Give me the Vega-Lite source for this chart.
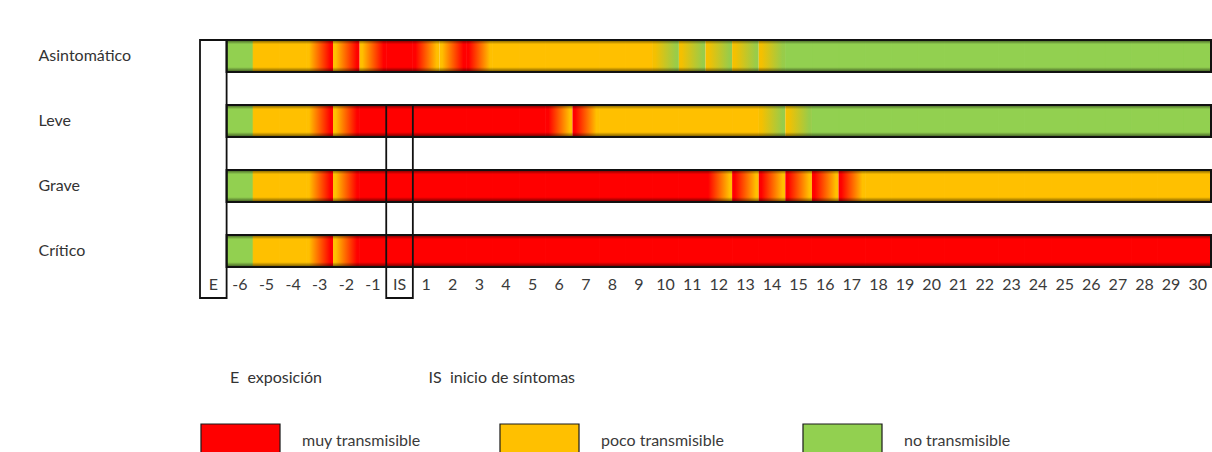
{
  "$schema": "https://vega.github.io/schema/vega-lite/v6.json",
  "width": 1011,
  "height": 258,
  "autosize": {"type": "none"},
  "padding": {"left": 200, "top": 40, "right": 1, "bottom": 154},
  "background": "white",
  "title": {
    "text": "E\u00a0\u00a0exposición\u00a0\u00a0\u00a0\u00a0\u00a0\u00a0\u00a0\u00a0\u00a0\u00a0\u00a0\u00a0\u00a0\u00a0\u00a0\u00a0\u00a0\u00a0\u00a0\u00a0\u00a0\u00a0\u00a0\u00a0\u00a0\u00a0IS\u00a0\u00a0inicio de síntomas",
    "orient": "top", "anchor": "start", "frame": "group", "dx": 30, "offset": -347,
    "font": "Lato", "fontSize": 16, "fontWeight": "normal", "color": "#333333"
  },
  "config": {
    "view": {"stroke": null},
    "axis": {"grid": false, "domain": false, "ticks": false, "labelFont": "Lato", "labelColor": "#3a3a3a", "labelFontSize": 16},
    "legend": {"labelFont": "Lato", "labelColor": "#3a3a3a", "labelFontSize": 16}
  },
  "datasets": {
    "celdas": [
      {"caso": "Asintomático", "dia": "-6", "de": "no", "a": "no"},
      {"caso": "Asintomático", "dia": "-5", "de": "poco", "a": "poco"},
      {"caso": "Asintomático", "dia": "-4", "de": "poco", "a": "poco"},
      {"caso": "Asintomático", "dia": "-3", "de": "poco", "a": "muy"},
      {"caso": "Asintomático", "dia": "-2", "de": "poco", "a": "muy"},
      {"caso": "Asintomático", "dia": "-1", "de": "poco", "a": "muy"},
      {"caso": "Asintomático", "dia": "IS", "de": "muy", "a": "muy"},
      {"caso": "Asintomático", "dia": "1", "de": "muy", "a": "poco"},
      {"caso": "Asintomático", "dia": "2", "de": "poco", "a": "muy"},
      {"caso": "Asintomático", "dia": "3", "de": "muy", "a": "poco"},
      {"caso": "Asintomático", "dia": "4", "de": "poco", "a": "poco"},
      {"caso": "Asintomático", "dia": "5", "de": "poco", "a": "poco"},
      {"caso": "Asintomático", "dia": "6", "de": "poco", "a": "poco"},
      {"caso": "Asintomático", "dia": "7", "de": "poco", "a": "poco"},
      {"caso": "Asintomático", "dia": "8", "de": "poco", "a": "poco"},
      {"caso": "Asintomático", "dia": "9", "de": "poco", "a": "poco"},
      {"caso": "Asintomático", "dia": "10", "de": "poco", "a": "no"},
      {"caso": "Asintomático", "dia": "11", "de": "poco", "a": "no"},
      {"caso": "Asintomático", "dia": "12", "de": "poco", "a": "no"},
      {"caso": "Asintomático", "dia": "13", "de": "poco", "a": "no"},
      {"caso": "Asintomático", "dia": "14", "de": "poco", "a": "no"},
      {"caso": "Asintomático", "dia": "15", "de": "no", "a": "no"},
      {"caso": "Asintomático", "dia": "16", "de": "no", "a": "no"},
      {"caso": "Asintomático", "dia": "17", "de": "no", "a": "no"},
      {"caso": "Asintomático", "dia": "18", "de": "no", "a": "no"},
      {"caso": "Asintomático", "dia": "19", "de": "no", "a": "no"},
      {"caso": "Asintomático", "dia": "20", "de": "no", "a": "no"},
      {"caso": "Asintomático", "dia": "21", "de": "no", "a": "no"},
      {"caso": "Asintomático", "dia": "22", "de": "no", "a": "no"},
      {"caso": "Asintomático", "dia": "23", "de": "no", "a": "no"},
      {"caso": "Asintomático", "dia": "24", "de": "no", "a": "no"},
      {"caso": "Asintomático", "dia": "25", "de": "no", "a": "no"},
      {"caso": "Asintomático", "dia": "26", "de": "no", "a": "no"},
      {"caso": "Asintomático", "dia": "27", "de": "no", "a": "no"},
      {"caso": "Asintomático", "dia": "28", "de": "no", "a": "no"},
      {"caso": "Asintomático", "dia": "29", "de": "no", "a": "no"},
      {"caso": "Asintomático", "dia": "30", "de": "no", "a": "no"},

      {"caso": "Leve", "dia": "-6", "de": "no", "a": "no"},
      {"caso": "Leve", "dia": "-5", "de": "poco", "a": "poco"},
      {"caso": "Leve", "dia": "-4", "de": "poco", "a": "poco"},
      {"caso": "Leve", "dia": "-3", "de": "poco", "a": "muy"},
      {"caso": "Leve", "dia": "-2", "de": "poco", "a": "muy"},
      {"caso": "Leve", "dia": "-1", "de": "muy", "a": "muy"},
      {"caso": "Leve", "dia": "IS", "de": "muy", "a": "muy"},
      {"caso": "Leve", "dia": "1", "de": "muy", "a": "muy"},
      {"caso": "Leve", "dia": "2", "de": "muy", "a": "muy"},
      {"caso": "Leve", "dia": "3", "de": "muy", "a": "muy"},
      {"caso": "Leve", "dia": "4", "de": "muy", "a": "muy"},
      {"caso": "Leve", "dia": "5", "de": "muy", "a": "muy"},
      {"caso": "Leve", "dia": "6", "de": "muy", "a": "poco"},
      {"caso": "Leve", "dia": "7", "de": "muy", "a": "poco"},
      {"caso": "Leve", "dia": "8", "de": "poco", "a": "poco"},
      {"caso": "Leve", "dia": "9", "de": "poco", "a": "poco"},
      {"caso": "Leve", "dia": "10", "de": "poco", "a": "poco"},
      {"caso": "Leve", "dia": "11", "de": "poco", "a": "poco"},
      {"caso": "Leve", "dia": "12", "de": "poco", "a": "poco"},
      {"caso": "Leve", "dia": "13", "de": "poco", "a": "poco"},
      {"caso": "Leve", "dia": "14", "de": "poco", "a": "no"},
      {"caso": "Leve", "dia": "15", "de": "poco", "a": "no"},
      {"caso": "Leve", "dia": "16", "de": "no", "a": "no"},
      {"caso": "Leve", "dia": "17", "de": "no", "a": "no"},
      {"caso": "Leve", "dia": "18", "de": "no", "a": "no"},
      {"caso": "Leve", "dia": "19", "de": "no", "a": "no"},
      {"caso": "Leve", "dia": "20", "de": "no", "a": "no"},
      {"caso": "Leve", "dia": "21", "de": "no", "a": "no"},
      {"caso": "Leve", "dia": "22", "de": "no", "a": "no"},
      {"caso": "Leve", "dia": "23", "de": "no", "a": "no"},
      {"caso": "Leve", "dia": "24", "de": "no", "a": "no"},
      {"caso": "Leve", "dia": "25", "de": "no", "a": "no"},
      {"caso": "Leve", "dia": "26", "de": "no", "a": "no"},
      {"caso": "Leve", "dia": "27", "de": "no", "a": "no"},
      {"caso": "Leve", "dia": "28", "de": "no", "a": "no"},
      {"caso": "Leve", "dia": "29", "de": "no", "a": "no"},
      {"caso": "Leve", "dia": "30", "de": "no", "a": "no"},

      {"caso": "Grave", "dia": "-6", "de": "no", "a": "no"},
      {"caso": "Grave", "dia": "-5", "de": "poco", "a": "poco"},
      {"caso": "Grave", "dia": "-4", "de": "poco", "a": "poco"},
      {"caso": "Grave", "dia": "-3", "de": "poco", "a": "muy"},
      {"caso": "Grave", "dia": "-2", "de": "poco", "a": "muy"},
      {"caso": "Grave", "dia": "-1", "de": "muy", "a": "muy"},
      {"caso": "Grave", "dia": "IS", "de": "muy", "a": "muy"},
      {"caso": "Grave", "dia": "1", "de": "muy", "a": "muy"},
      {"caso": "Grave", "dia": "2", "de": "muy", "a": "muy"},
      {"caso": "Grave", "dia": "3", "de": "muy", "a": "muy"},
      {"caso": "Grave", "dia": "4", "de": "muy", "a": "muy"},
      {"caso": "Grave", "dia": "5", "de": "muy", "a": "muy"},
      {"caso": "Grave", "dia": "6", "de": "muy", "a": "muy"},
      {"caso": "Grave", "dia": "7", "de": "muy", "a": "muy"},
      {"caso": "Grave", "dia": "8", "de": "muy", "a": "muy"},
      {"caso": "Grave", "dia": "9", "de": "muy", "a": "muy"},
      {"caso": "Grave", "dia": "10", "de": "muy", "a": "muy"},
      {"caso": "Grave", "dia": "11", "de": "muy", "a": "muy"},
      {"caso": "Grave", "dia": "12", "de": "muy", "a": "poco"},
      {"caso": "Grave", "dia": "13", "de": "muy", "a": "poco"},
      {"caso": "Grave", "dia": "14", "de": "muy", "a": "poco"},
      {"caso": "Grave", "dia": "15", "de": "muy", "a": "poco"},
      {"caso": "Grave", "dia": "16", "de": "muy", "a": "poco"},
      {"caso": "Grave", "dia": "17", "de": "muy", "a": "poco"},
      {"caso": "Grave", "dia": "18", "de": "poco", "a": "poco"},
      {"caso": "Grave", "dia": "19", "de": "poco", "a": "poco"},
      {"caso": "Grave", "dia": "20", "de": "poco", "a": "poco"},
      {"caso": "Grave", "dia": "21", "de": "poco", "a": "poco"},
      {"caso": "Grave", "dia": "22", "de": "poco", "a": "poco"},
      {"caso": "Grave", "dia": "23", "de": "poco", "a": "poco"},
      {"caso": "Grave", "dia": "24", "de": "poco", "a": "poco"},
      {"caso": "Grave", "dia": "25", "de": "poco", "a": "poco"},
      {"caso": "Grave", "dia": "26", "de": "poco", "a": "poco"},
      {"caso": "Grave", "dia": "27", "de": "poco", "a": "poco"},
      {"caso": "Grave", "dia": "28", "de": "poco", "a": "poco"},
      {"caso": "Grave", "dia": "29", "de": "poco", "a": "poco"},
      {"caso": "Grave", "dia": "30", "de": "poco", "a": "poco"},

      {"caso": "Crítico", "dia": "-6", "de": "no", "a": "no"},
      {"caso": "Crítico", "dia": "-5", "de": "poco", "a": "poco"},
      {"caso": "Crítico", "dia": "-4", "de": "poco", "a": "poco"},
      {"caso": "Crítico", "dia": "-3", "de": "poco", "a": "muy"},
      {"caso": "Crítico", "dia": "-2", "de": "poco", "a": "muy"},
      {"caso": "Crítico", "dia": "-1", "de": "muy", "a": "muy"},
      {"caso": "Crítico", "dia": "IS", "de": "muy", "a": "muy"},
      {"caso": "Crítico", "dia": "1", "de": "muy", "a": "muy"},
      {"caso": "Crítico", "dia": "2", "de": "muy", "a": "muy"},
      {"caso": "Crítico", "dia": "3", "de": "muy", "a": "muy"},
      {"caso": "Crítico", "dia": "4", "de": "muy", "a": "muy"},
      {"caso": "Crítico", "dia": "5", "de": "muy", "a": "muy"},
      {"caso": "Crítico", "dia": "6", "de": "muy", "a": "muy"},
      {"caso": "Crítico", "dia": "7", "de": "muy", "a": "muy"},
      {"caso": "Crítico", "dia": "8", "de": "muy", "a": "muy"},
      {"caso": "Crítico", "dia": "9", "de": "muy", "a": "muy"},
      {"caso": "Crítico", "dia": "10", "de": "muy", "a": "muy"},
      {"caso": "Crítico", "dia": "11", "de": "muy", "a": "muy"},
      {"caso": "Crítico", "dia": "12", "de": "muy", "a": "muy"},
      {"caso": "Crítico", "dia": "13", "de": "muy", "a": "muy"},
      {"caso": "Crítico", "dia": "14", "de": "muy", "a": "muy"},
      {"caso": "Crítico", "dia": "15", "de": "muy", "a": "muy"},
      {"caso": "Crítico", "dia": "16", "de": "muy", "a": "muy"},
      {"caso": "Crítico", "dia": "17", "de": "muy", "a": "muy"},
      {"caso": "Crítico", "dia": "18", "de": "muy", "a": "muy"},
      {"caso": "Crítico", "dia": "19", "de": "muy", "a": "muy"},
      {"caso": "Crítico", "dia": "20", "de": "muy", "a": "muy"},
      {"caso": "Crítico", "dia": "21", "de": "muy", "a": "muy"},
      {"caso": "Crítico", "dia": "22", "de": "muy", "a": "muy"},
      {"caso": "Crítico", "dia": "23", "de": "muy", "a": "muy"},
      {"caso": "Crítico", "dia": "24", "de": "muy", "a": "muy"},
      {"caso": "Crítico", "dia": "25", "de": "muy", "a": "muy"},
      {"caso": "Crítico", "dia": "26", "de": "muy", "a": "muy"},
      {"caso": "Crítico", "dia": "27", "de": "muy", "a": "muy"},
      {"caso": "Crítico", "dia": "28", "de": "muy", "a": "muy"},
      {"caso": "Crítico", "dia": "29", "de": "muy", "a": "muy"},
      {"caso": "Crítico", "dia": "30", "de": "muy", "a": "muy"}
    ],
    "casos": [
      {"caso": "Asintomático"},
      {"caso": "Leve"},
      {"caso": "Grave"},
      {"caso": "Crítico"}
    ],
    "marcas": [
      {"marca": "E", "desde": "Asintomático"},
      {"marca": "IS", "desde": "Leve"}
    ]
  },
  "layer": [
    {
      "data": {"name": "celdas"},
      "transform": [{"filter": "datum.de === datum.a"}],
      "mark": {"type": "rect", "strokeWidth": 1, "stroke": {"expr": "datum.de === 'muy' ? '#FF0000' : datum.de === 'poco' ? '#FFC000' : '#92D050'"}},
      "encoding": {
        "x": {
          "field": "dia", "type": "ordinal",
          "scale": {"domain": ["E","-6","-5","-4","-3","-2","-1","IS","1","2","3","4","5","6","7","8","9","10","11","12","13","14","15","16","17","18","19","20","21","22","23","24","25","26","27","28","29","30"], "paddingInner": 0, "paddingOuter": 0},
          "axis": {"title": null, "orient": "bottom", "offset": -24, "labelPadding": 2, "labelAngle": 0, "labelOverlap": false}
        },
        "y": {
          "field": "caso", "type": "nominal",
          "scale": {"domain": ["Asintomático","Leve","Grave","Crítico"], "paddingInner": 0.50769, "paddingOuter": 0.2385, "align": 0},
          "axis": {"title": null, "labelAlign": "left", "labelPadding": 162, "labelColor": "#333333"}
        },
        "fill": {
          "field": "de", "type": "nominal",
          "scale": {"domain": ["muy","poco","no"], "range": ["#FF0000","#FFC000","#92D050"]},
          "legend": {
            "orient": "none", "legendX": 22.5, "legendY": 383, "direction": "horizontal",
            "gridAlign": "none", "title": null, "padding": 0,
            "symbolType": "M-2.324,-1H2.324V1H-2.324Z", "symbolSize": 1156,
            "symbolStrokeColor": "#1a1a1a", "symbolStrokeWidth": 1.2, "symbolOpacity": 1,
            "labelOffset": 43.5, "columnPadding": 76, "labelLimit": 400,
            "labelExpr": "datum.label + ' transmisible'"
          }
        }
      }
    },
    {
      "data": {"name": "celdas"},
      "transform": [{"filter": "datum.de === 'poco' && datum.a === 'muy'"}],
      "mark": {"type": "rect", "fill": {"gradient": "linear", "x1": 0, "y1": 0, "x2": 1, "y2": 0, "stops": [{"offset": 0.1, "color": "#FFC000"}, {"offset": 0.9, "color": "#FF0000"}]}},
      "encoding": {
        "x": {"field": "dia", "type": "ordinal", "axis": {"title": null, "orient": "bottom", "offset": -24, "labelPadding": 2, "labelAngle": 0, "labelOverlap": false}},
        "y": {"field": "caso", "type": "nominal", "axis": {"title": null, "labelAlign": "left", "labelPadding": 162, "labelColor": "#333333"}}
      }
    },
    {
      "data": {"name": "celdas"},
      "transform": [{"filter": "datum.de === 'muy' && datum.a === 'poco'"}],
      "mark": {"type": "rect", "fill": {"gradient": "linear", "x1": 0, "y1": 0, "x2": 1, "y2": 0, "stops": [{"offset": 0.1, "color": "#FF0000"}, {"offset": 0.9, "color": "#FFC000"}]}},
      "encoding": {
        "x": {"field": "dia", "type": "ordinal", "axis": {"title": null, "orient": "bottom", "offset": -24, "labelPadding": 2, "labelAngle": 0, "labelOverlap": false}},
        "y": {"field": "caso", "type": "nominal", "axis": {"title": null, "labelAlign": "left", "labelPadding": 162, "labelColor": "#333333"}}
      }
    },
    {
      "data": {"name": "celdas"},
      "transform": [{"filter": "datum.de === 'poco' && datum.a === 'no'"}],
      "mark": {"type": "rect", "fill": {"gradient": "linear", "x1": 0, "y1": 0, "x2": 1, "y2": 0, "stops": [{"offset": 0.1, "color": "#F5C000"}, {"offset": 0.9, "color": "#98CC4A"}]}},
      "encoding": {
        "x": {"field": "dia", "type": "ordinal", "axis": {"title": null, "orient": "bottom", "offset": -24, "labelPadding": 2, "labelAngle": 0, "labelOverlap": false}},
        "y": {"field": "caso", "type": "nominal", "axis": {"title": null, "labelAlign": "left", "labelPadding": 162, "labelColor": "#333333"}}
      }
    },
    {
      "data": {"name": "casos"},
      "mark": {"type": "rect", "stroke": "#111111", "strokeWidth": 2,
        "fill": {"gradient": "linear", "x1": 0, "y1": 0, "x2": 0, "y2": 1, "stops": [{"offset": 0, "color": "rgba(0,0,0,0.55)"}, {"offset": 0.13, "color": "rgba(0,0,0,0)"}, {"offset": 0.85, "color": "rgba(0,0,0,0)"}, {"offset": 1, "color": "rgba(0,0,0,0.6)"}]}},
      "encoding": {
        "x": {"datum": "-6", "type": "ordinal", "bandPosition": 0, "axis": {"title": null, "orient": "bottom", "offset": -24, "labelPadding": 2, "labelAngle": 0, "labelOverlap": false}},
        "x2": {"datum": "30", "bandPosition": 1},
        "y": {"field": "caso", "type": "nominal", "axis": {"title": null, "labelAlign": "left", "labelPadding": 162, "labelColor": "#333333"}}
      }
    },
    {
      "data": {"name": "marcas"},
      "mark": {"type": "rect", "fill": "white", "fillOpacity": 0, "stroke": "#111111", "strokeWidth": 1.8},
      "encoding": {
        "x": {"field": "marca", "type": "ordinal", "axis": {"title": null, "orient": "bottom", "offset": -24, "labelPadding": 2, "labelAngle": 0, "labelOverlap": false}},
        "y": {"field": "desde", "type": "nominal", "bandPosition": 0, "axis": {"title": null, "labelAlign": "left", "labelPadding": 162, "labelColor": "#333333"}},
        "y2": {"value": "height"}
      }
    }
  ]
}
